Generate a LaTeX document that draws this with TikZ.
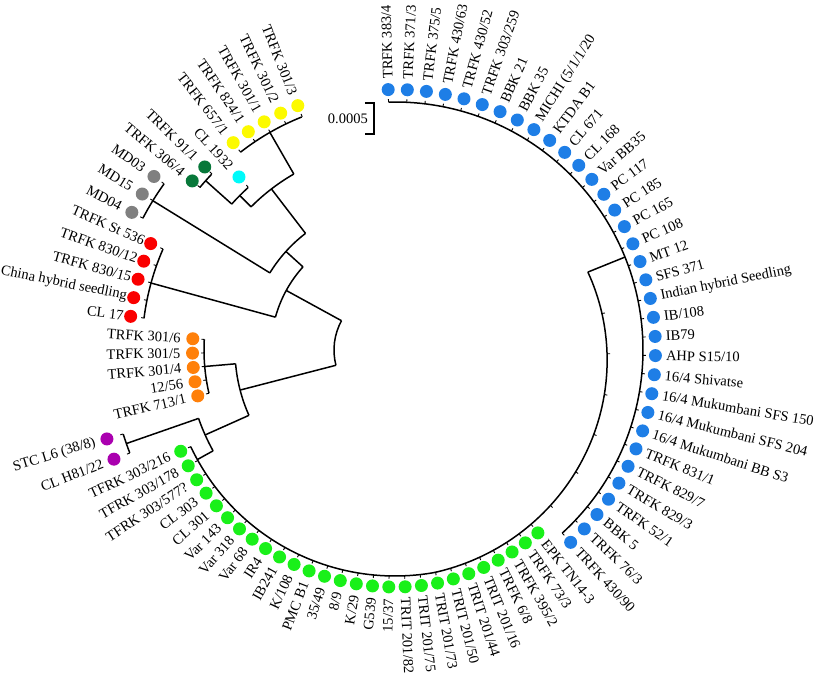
\documentclass[tikz,border=0pt]{standalone}
\usepackage{fontspec}
\setmainfont{Liberation Serif}

\definecolor{blueleaf}{RGB}{30,126,230}
\definecolor{greenleaf}{RGB}{25,240,25}
\definecolor{yellowleaf}{RGB}{252,250,0}
\definecolor{dkgreenleaf}{RGB}{8,120,58}
\definecolor{cyanleaf}{RGB}{0,250,250}
\definecolor{grayleaf}{RGB}{128,128,128}
\definecolor{redleaf}{RGB}{250,0,0}
\definecolor{orangeleaf}{RGB}{255,128,10}
\definecolor{purpleleaf}{RGB}{170,0,175}

\tikzset{
  branch/.style={line width=1.5pt},
  tickmark/.style={line width=0.9pt},
  leaf/.style={circle, fill=#1, draw=none, inner sep=0pt, minimum size=13pt},
  leaflabel/.style={font=\fontsize{14.5}{17}\selectfont, inner sep=0pt},
}

% internal node: name, radius, first angle, last angle, joint angle, radius of parent
\newcommand{\treenode}[6]{%
  \coordinate (#1) at (#5:#2);
  \coordinate (#1-p) at (#5:#6);
  \draw[branch] (#1-p) -- (#1);
  \draw[branch] (#3:#2) arc[start angle=#3, end angle=#4, radius=#2pt];
}

% leaves on the left half: first slot, node radius, dot radius, colour, label gap, labels
\newcommand{\leftleaves}[6]{%
  \foreach \lab [count=\k from #1] in {#6} {
    \pgfmathsetmacro\a{205.3-4.07*\k}
    \draw[tickmark] (\a:#2) -- (\a:{#2+3});
    \node[leaf=#4] (#4-\k) at (\a:#3) {};
    \node[leaflabel, anchor=east, rotate=\a+180] (#4-\k-t) at (\a:{#3+#5}) {\lab};
  }
}

\begin{document}
\begin{tikzpicture}[x=1pt,y=1pt]
  \useasboundingbox (-395,-331) rectangle (421,350);

  % root and inner nodes
  \coordinate (root) at (151.3:61);
  \draw[branch] (root) arc[start angle=151.3, end angle=194.5, radius=61pt];
  \treenode{n2}{124}{137.9}{164.65}{151.3}{61}
  \treenode{n3}{147}{127.5}{148.35}{137.9}{124}
  \treenode{n4}{203}{119.9}{135.15}{127.5}{147}
  \treenode{n5}{219}{132.1}{138.2}{135.15}{203}
  \treenode{yellow}{251}{111.8}{128.0}{119.9}{203}
  \treenode{dkgreen}{254}{136.2}{140.2}{138.2}{219}
  \treenode{gray}{284.5}{144.3}{152.4}{148.35}{147}
  \treenode{red}{253}{156.5}{172.8}{164.65}{124}
  \treenode{n6}{160}{184.95}{204.1}{194.5}{61}
  \treenode{orange}{191}{176.8}{193.1}{184.95}{160}
  \treenode{pp}{208}{199.2}{209}{204.1}{160}
  \treenode{purple}{284.5}{197.2}{201.2}{199.2}{208}

  % green clade (slowly closing arc) and blue clade hanging from it
  \coordinate (green-p) at (209:208);
  \coordinate (green) at (209:226);
  \draw[branch] (green-p) -- (green);
  \draw[branch] plot[domain=205.3:382, samples=120, variable=\t]
    ({\t}:{226-0.176*max(\t-280,0)});
  \foreach \a in {315,326,337,348,359,370}
    \draw[tickmark] (\a:{226-0.176*(\a-280)}) -- (\a:{229-0.176*(\a-280)});
  \coordinate (blue-p) at (22:208);
  \coordinate (blue) at (22:248);
  \draw[branch] (blue-p) -- (blue);
  \draw[branch] (-47.6:248) arc[start angle=-47.6, end angle=91.5, radius=248pt];

  % blue leaves
  \foreach \lab [count=\i from 0] in {TRFK 383/4, TRFK 371/3, TRFK 375/5, TRFK 430/63,
      TRFK 430/52, TRFK 303/259, BBK 21, BBK 35, MICHI (5/1/1/20, KTDA B1, CL 671,
      CL 168, Var BB35, PC 117, PC 185, PC 165, PC 108, MT 12, SFS 371,
      Indian hybrid Seedling, IB/108, IB79, AHP S15/10, 16/4 Shivatse,
      16/4 Mukumbani SFS 150, 16/4 Mukumbani SFS 204, 16/4 Mukumbani BB S3,
      TRFK 831/1, TRFK 829/7, TRFK 829/3, TRFK 52/1, BBK 5, TRFK 76/3, TRFK 430/90} {
    \pgfmathsetmacro\a{91.5-4.215*\i}
    \draw[tickmark] (\a:248) -- (\a:251);
    \node[leaf=blueleaf] (blue-\i) at (\a:260.5) {};
    \node[leaflabel, anchor=west, rotate=\a] (blue-\i-t) at (\a:271) {\lab};
  }

  % green leaves
  \foreach \lab [count=\j from 0] in {EPK TN14-3, TRFK 73/3, TRFK 395/2, TRFK 6/8,
      TRIT 201/16, TRIT 201/44, TRIT 201/50, TRIT 201/73, TRIT 201/75, TRIT 201/82,
      15/37, G539, K/29, 8/9, 35/49, PMC B1, K/108, IB241, IR4, Var 68, Var 318,
      Var 143, CL 301, CL 303, TFRK 303/577?, TFRK 303/178, TFRK 303/216} {
    \pgfmathsetmacro\a{308-3.95*\j}
    \pgfmathsetmacro\r{226-0.176*max(\a-280,0)}
    \pgfmathtruncatemacro\flip{\a<270 ? 1 : 0}
    \draw[tickmark] (\a:\r) -- (\a:{\r+3});
    \node[leaf=greenleaf] (green-\j) at (\a:{\r+11}) {};
    \ifnum\flip=1
      \node[leaflabel, anchor=east, rotate=\a+180] (green-\j-t) at (\a:{\r+23}) {\lab};
    \else
      \node[leaflabel, anchor=west, rotate=\a] (green-\j-t) at (\a:{\r+21.5}) {\lab};
    \fi
  }

  % leaves on the left
  \leftleaves{1}{284.5}{301.5}{purpleleaf}{12}{CL H81/22, STC L6 (38/8)}
  \leftleaves{3}{191}{202.5}{orangeleaf}{12}{TRFK 713/1, 12/56, TRFK 301/4, TRFK 301/5, TRFK 301/6}
  \leftleaves{8}{253}{266.5}{redleaf}{7}{CL 17, China hybrid seedling, TRFK 830/15, TRFK 830/12, TRFK St 536}
  \leftleaves{13}{284.5}{297}{grayleaf}{12}{MD04, MD15, MD03}
  \leftleaves{16}{254}{264}{dkgreenleaf}{12}{TRFK 306/4, TRFK 91/1}
  \leftleaves{18}{219}{233}{cyanleaf}{12}{CL 1932}
  \leftleaves{19}{251}{263}{yellowleaf}{12}{TRFK 657/1, TRFK 824/1, TRFK 301/1, TRFK 301/2, TRFK 301/3}

  % scale bar
  \coordinate (sb1) at (-30,247);
  \coordinate (sb2) at (-21,247);
  \coordinate (sb3) at (-21,216);
  \coordinate (sb4) at (-30,216);
  \draw[branch] (sb1) -- (sb2) -- (sb3) -- (sb4);
  \node[leaflabel, anchor=east] (sbl) at (-27,231.5) {0.0005};
\end{tikzpicture}
\end{document}
